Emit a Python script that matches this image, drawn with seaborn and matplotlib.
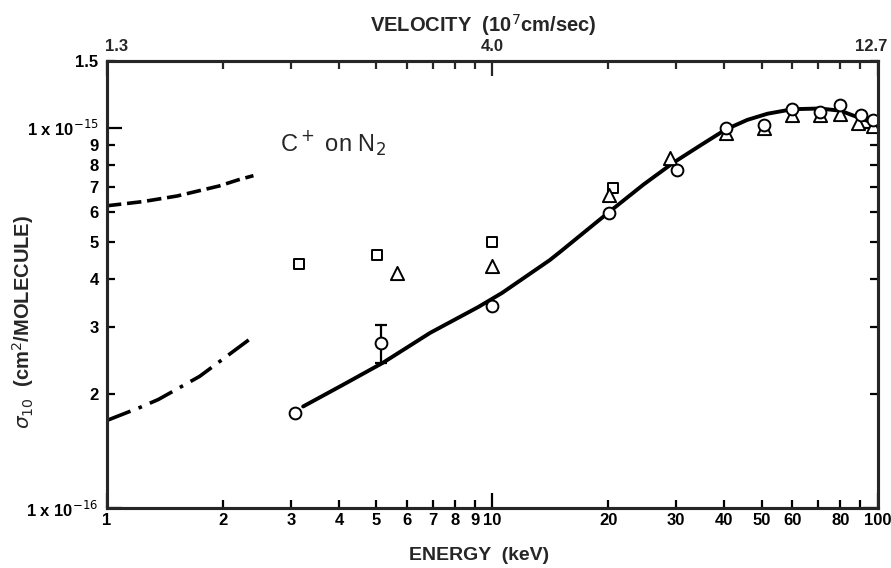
import numpy as np
import pandas as pd
import matplotlib
matplotlib.use("Agg")
import matplotlib.pyplot as plt
import matplotlib.ticker as mticker
import matplotlib.transforms as mtransforms
import seaborn as sns

# fitted curve (solid), energy in keV, sigma in cm^2
curve_E = [3.23, 4.1, 5.2, 6.9, 9.2, 10.6, 14.1, 15.0, 20.1, 24.7, 29.5, 34.7, 40.3,
           45.9, 51.8, 60.1, 70.7, 80.1, 90.3, 100]
curve_s = [1.85e-16, 2.11e-16, 2.41e-16, 2.89e-16, 3.38e-16, 3.68e-16, 4.49e-16, 4.72e-16,
           6.01e-16, 7.1e-16, 8.1e-16, 9.0e-16, 9.9e-16, 1.05e-15, 1.09e-15, 1.12e-15,
           1.125e-15, 1.11e-15, 1.06e-15, 1.02e-15]

# low-energy theory curves
dash_E = [1.0, 1.24, 1.52, 1.74, 1.95, 2.19, 2.40]
dash_s = [6.24e-16, 6.40e-16, 6.62e-16, 6.84e-16, 7.03e-16, 7.30e-16, 7.49e-16]
dashdot_E = [1.0, 1.22, 1.36, 1.74, 1.93, 2.38]
dashdot_s = [1.70e-16, 1.84e-16, 1.93e-16, 2.22e-16, 2.40e-16, 2.81e-16]

# data points
circ_E = [3.08, 5.15, 10.0, 20.1, 30.2, 40.3, 50.6, 60.1, 70.7, 80.1, 90.3, 97.5]
circ_s = [1.78e-16, 2.72e-16, 3.40e-16, 5.98e-16, 7.75e-16, 1.00e-15, 1.02e-15,
          1.12e-15, 1.10e-15, 1.15e-15, 1.08e-15, 1.05e-15]
tri_E = [5.67, 10.0, 20.1, 29.0, 40.3, 50.6, 60.1, 70.7, 80.1, 89.0, 97.5]
tri_s = [4.15e-16, 4.33e-16, 6.66e-16, 8.34e-16, 9.7e-16, 1.0e-15, 1.08e-15,
         1.08e-15, 1.09e-15, 1.03e-15, 1.01e-15]
sq_E = [3.15, 5.03, 10.0, 20.6]
sq_s = [4.39e-16, 4.63e-16, 5.01e-16, 6.95e-16]

# error bar on the 5 keV circle
err_E = [5.15]
err_s = [2.72e-16]
err_lo = [0.31e-16]
err_hi = [0.31e-16]

xticks_minor = [2, 3, 4, 5, 6, 7, 8, 9, 20, 30, 40, 50, 60, 70, 80, 90]
xlabels_skip = [70, 90]
vel_ticks = [1, 10, 100]
vel_labels = ['1.3', '4.0', '12.7']
yticks_minor = [2e-16, 3e-16, 4e-16, 5e-16, 6e-16, 7e-16, 8e-16, 9e-16, 1.5e-15]
ylabels_minor = ['2', '3', '4', '5', '6', '7', '8', '9', '1.5']

sns.set_style("ticks")
plt.rcParams['font.family'] = ['Liberation Sans', 'DejaVu Sans']
plt.rcParams['mathtext.fontset'] = 'dejavusans'

fig = plt.figure(figsize=(8.91, 5.68), dpi=100)
ax = fig.add_axes([0.120, 0.1056, 0.865, 0.787])
ax.set_xscale('log')
ax.set_yscale('log')

sns.lineplot(x=curve_E, y=curve_s, ax=ax, color='black', lw=2.8, sort=False, zorder=2)
sns.lineplot(x=dash_E, y=dash_s, ax=ax, color='black', lw=2.6, sort=False,
             linestyle=(0, (4, 1.6)))
sns.lineplot(x=dashdot_E, y=dashdot_s, ax=ax, color='black', lw=2.6, sort=False,
             linestyle=(0, (7, 2.4, 1, 2.4)))

ax.errorbar(err_E, err_s, yerr=[err_lo, err_hi], fmt='none', ecolor='black',
            elinewidth=1.6, capsize=4, capthick=1.6, zorder=3)

mk = dict(color='white', edgecolor='black', linewidth=1.4, ax=ax, zorder=4)
sns.scatterplot(x=sq_E, y=sq_s, marker='s', s=55, **mk)
sns.scatterplot(x=tri_E, y=tri_s, marker='^', s=90, **mk)
sns.scatterplot(x=circ_E, y=circ_s, marker='o', s=72, **mk)

ax.set_xlim(1, 100)
ax.set_ylim(1e-16, 1.5e-15)

# bottom axis ticks
ax.xaxis.set_major_locator(mticker.FixedLocator([1, 10, 100]))
ax.xaxis.set_major_formatter(mticker.FixedFormatter(['1', '10', '100']))
ax.xaxis.set_minor_locator(mticker.FixedLocator(xticks_minor))
ax.xaxis.set_minor_formatter(mticker.FixedFormatter(
    ['' if t in xlabels_skip else str(t) for t in xticks_minor]))

# left axis ticks
ax.yaxis.set_major_locator(mticker.FixedLocator([1e-16, 1e-15]))
ax.yaxis.set_major_formatter(mticker.FixedFormatter([r'1 x 10$^{-16}$', r'1 x 10$^{-15}$']))
ax.yaxis.set_minor_locator(mticker.FixedLocator(yticks_minor))
ax.yaxis.set_minor_formatter(mticker.FixedFormatter(ylabels_minor))

ax.tick_params(which='both', direction='in', top=False, right=True, width=1.6,
               labelsize=12, colors='black')
ax.tick_params(axis='y', which='both', pad=6)
ax.tick_params(which='major', length=11)
ax.tick_params(which='minor', length=6)
for lab in ax.get_xticklabels(which='both') + ax.get_yticklabels(which='both'):
    lab.set_fontweight('bold')

for sp in ax.spines.values():
    sp.set_visible(True)
    sp.set_linewidth(2.2)
    sp.set_color('black')

# top velocity axis
ax2 = ax.twiny()
ax2.set_xscale('log')
ax2.set_xlim(1, 100)
ax2.xaxis.set_major_locator(mticker.FixedLocator(vel_ticks))
ax2.xaxis.set_major_formatter(mticker.FixedFormatter(vel_labels))
ax2.xaxis.set_minor_locator(mticker.FixedLocator(xticks_minor))
ax2.xaxis.set_minor_formatter(mticker.NullFormatter())
ax2.tick_params(which='both', direction='in', width=1.6, labelsize=12, pad=5)
ax2.tick_params(which='major', length=11)
ax2.tick_params(which='minor', length=6)
for sp in ax2.spines.values():
    sp.set_linewidth(2.2)

# nudge the end labels of the velocity scale inwards
shifts = [10, 0, -6]
for tick, dx in zip(ax2.xaxis.get_major_ticks(), shifts):
    lab = tick.label2
    lab.set_fontweight('bold')
    lab.set_transform(lab.get_transform() +
                      mtransforms.ScaledTranslation(dx / 100, 0, fig.dpi_scale_trans))

ax.set_xlabel('ENERGY  (keV)', fontsize=14, fontweight='bold', va='top')
ax.xaxis.set_label_coords(0.4825, -0.088)
ax2.set_xlabel(r'VELOCITY  (10$^7$cm/sec)', fontsize=14.5, fontweight='bold', va='bottom')
ax2.xaxis.set_label_coords(0.489, 1.051)
ax.set_ylabel(r'$\sigma_{10}$  (cm$^2$/MOLECULE)', fontsize=14.5, fontweight='bold')
ax.yaxis.set_label_coords(-0.092, 0.416)

ax.text(2.81, 9.1e-16, r'C$^+$ on N$_2$', fontsize=17,
        family=['Liberation Sans Narrow', 'Liberation Sans', 'DejaVu Sans'],
        ha='left', va='center')

fig.savefig('out.png', dpi=100)
